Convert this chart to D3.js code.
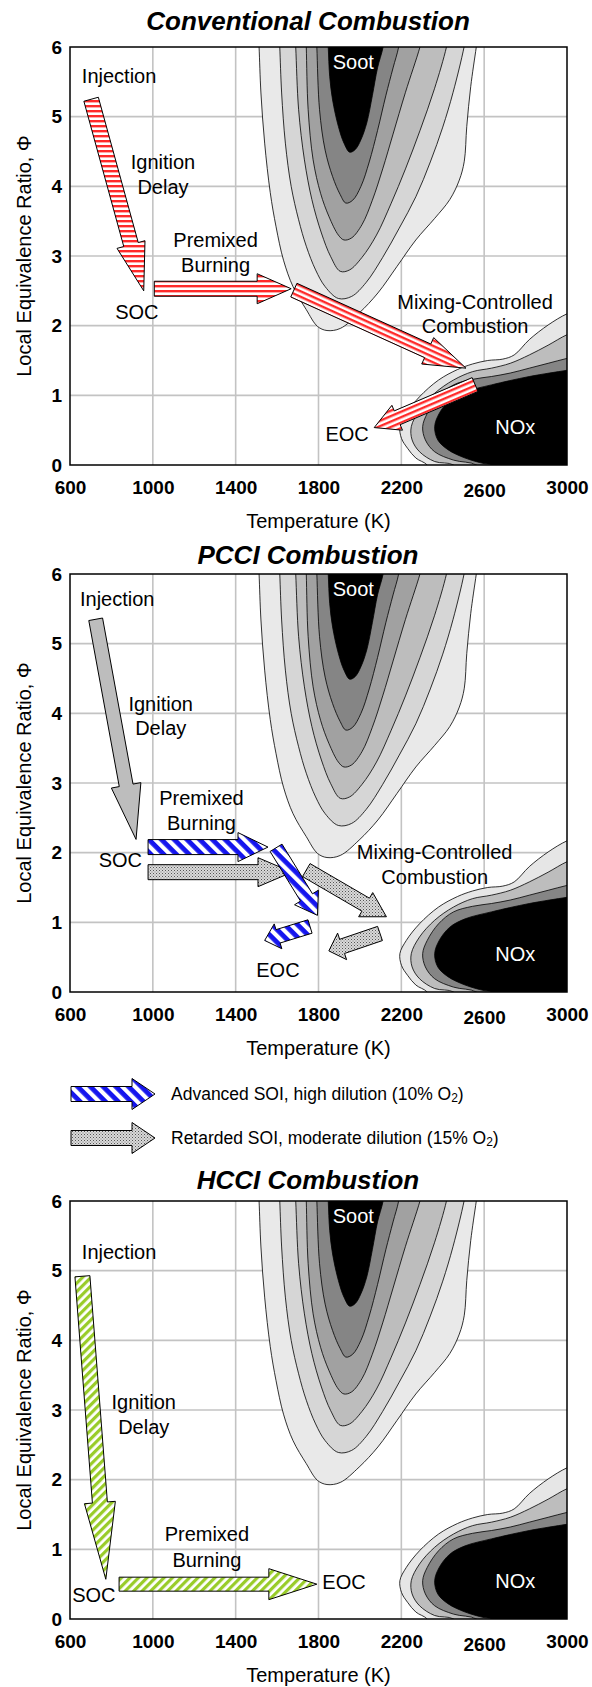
<!DOCTYPE html>
<html>
<head>
<meta charset="utf-8">
<script src="https://cdn.jsdelivr.net/npm/d3@7"></script>
<style>
  html, body { margin: 0; padding: 0; background: #fff; }
  svg { display: block; }
  text { font-family: "Liberation Sans", Arial, Helvetica, sans-serif; fill: #000; }
</style>
</head>
<body>
<svg id="fig" width="592" height="1687"></svg>
<script>
// ---- axis ticks -------------------------------------------------------------
const tempTicks = [600, 1000, 1400, 1800, 2200, 2600, 3000];
const phiTicks = [0, 1, 2, 3, 4, 5, 6];
const panelTitles = ["Conventional Combustion", "PCCI Combustion", "HCCI Combustion"];

// ---- soot contour bands, outermost first: [T (K), phi] ----------------------
const sootLevels = [
  [[1508,6.3],[1513,6.0],[1522,5.34],[1540,4.62],[1567,3.91],[1595,3.42],[1631,2.94],[1677,2.56],[1741,2.23],[1795,1.99],[1841,1.93],[1905,1.96],[1996,2.18],[2087,2.47],[2179,2.85],[2270,3.23],[2361,3.54],[2434,3.81],[2480,4.09],[2504,4.36],[2516,4.86],[2535,5.43],[2562,6.0],[2576,6.3]],
  [[1609,6.3],[1613,6.0],[1622,5.34],[1640,4.62],[1668,4.0],[1704,3.52],[1741,3.14],[1786,2.80],[1832,2.56],[1896,2.39],[1960,2.42],[2030,2.62],[2110,2.98],[2190,3.40],[2270,3.85],[2340,4.35],[2400,4.85],[2450,5.35],[2503,6.0],[2520,6.3]],
  [[1685,6.3],[1690,6.0],[1704,5.10],[1732,4.38],[1768,3.81],[1814,3.33],[1859,2.99],[1905,2.78],[1950,2.80],[2010,2.98],[2080,3.30],[2150,3.75],[2220,4.25],[2290,4.80],[2360,5.40],[2418,6.0],[2436,6.3]],
  [[1738,6.3],[1741,6.0],[1750,5.10],[1774,4.38],[1810,3.90],[1850,3.57],[1896,3.30],[1923,3.23],[1960,3.26],[2010,3.45],[2060,3.80],[2110,4.25],[2160,4.75],[2220,5.35],[2290,6.0],[2315,6.3]],
  [[1788,6.3],[1792,6.0],[1805,5.10],[1832,4.52],[1868,4.14],[1905,3.88],[1932,3.76],[1965,3.80],[2005,4.00],[2045,4.35],[2085,4.80],[2125,5.30],[2160,5.70],[2187,6.0],[2200,6.3]],
  [[1842,6.3],[1847,6.0],[1854,5.58],[1868,5.24],[1896,4.86],[1923,4.62],[1951,4.49],[1978,4.53],[2005,4.67],[2033,4.91],[2060,5.30],[2085,5.70],[2112,6.0],[2125,6.3]]
];
const sootFills = ["#e9e9e9", "#d6d6d6", "#bdbdbd", "#a1a1a1", "#858585", "#000000"];

// ---- NOx contour bands, outermost first --------------------------------------
const noxLevels = [
  [[3080,2.25],[3000,2.17],[2909,2.01],[2818,1.80],[2745,1.58],[2690,1.52],[2617,1.50],[2544,1.45],[2471,1.37],[2380,1.22],[2288,0.98],[2224,0.74],[2193,0.55],[2201,0.38],[2230,0.24],[2270,0.10],[2325,0],[2360,-0.2]],
  [[3080,1.95],[3000,1.87],[2909,1.72],[2818,1.58],[2726,1.46],[2635,1.39],[2544,1.34],[2452,1.22],[2361,1.03],[2288,0.79],[2248,0.55],[2252,0.36],[2288,0.19],[2361,0.05],[2452,0],[2500,-0.2]],
  [[3080,1.58],[3000,1.53],[2909,1.46],[2818,1.39],[2726,1.32],[2635,1.27],[2544,1.23],[2452,1.15],[2380,0.98],[2325,0.74],[2303,0.55],[2316,0.36],[2361,0.19],[2452,0.07],[2562,0],[2620,-0.2]],
  [[3080,1.40],[3000,1.36],[2818,1.27],[2635,1.15],[2508,1.05],[2434,0.93],[2383,0.74],[2361,0.55],[2376,0.36],[2425,0.22],[2508,0.10],[2599,0.02],[2635,0],[2680,-0.2]]
];
const noxFills = ["#e6e6e6", "#bdbdbd", "#858585", "#000000"];

const regionLabels = [
  { text: "Soot", at: [1968, 5.79] },
  { text: "NOx",  at: [2750, 0.55] }
];

// ---- process arrows (start -> end in T, phi) ---------------------------------
const conventionalArrows = [
  { from: [702, 5.25],  to: [956, 2.50] },
  { from: [1007, 2.53], to: [1668, 2.53] },
  { from: [1681, 2.51], to: [2512, 1.39] },
  { from: [2556, 1.155], to: [2069, 0.537] }
];
const pcciInjectionArrows = [
  { from: [724, 5.35], to: [919, 2.19] }
];
const pcciRetardedArrows = [
  { from: [977, 1.72],  to: [1672, 1.72] },
  { from: [1741, 1.75], to: [2128, 1.08] },
  { from: [2097, 0.84], to: [1850, 0.59] }
];
const pcciAdvancedArrows = [
  { from: [977, 2.08],  to: [1556, 2.08] },
  { from: [1595, 2.07], to: [1795, 1.10] },
  { from: [1759, 0.94], to: [1540, 0.74] }
];
const hcciArrows = [
  { from: [660, 4.92], to: [773, 0.57] },
  { from: [837, 0.50], to: [1792, 0.50] }
];

// ---- annotations -------------------------------------------------------------
const conventionalLabels = [
  { text: "Injection", at: [837, 5.58] },
  { text: "Ignition", at: [1049, 4.35] },
  { text: "Delay", at: [1049, 3.99] },
  { text: "Premixed", at: [1303, 3.23] },
  { text: "Burning", at: [1303, 2.87] },
  { text: "SOC", at: [923, 2.19] },
  { text: "Mixing-Controlled", at: [2556, 2.34] },
  { text: "Combustion", at: [2556, 1.99] },
  { text: "EOC", at: [1938, 0.45] }
];
const pcciLabels = [
  { text: "Injection", at: [828, 5.64] },
  { text: "Ignition", at: [1038, 4.14] },
  { text: "Delay", at: [1038, 3.79] },
  { text: "Premixed", at: [1235, 2.79] },
  { text: "Burning", at: [1235, 2.43] },
  { text: "SOC", at: [843, 1.89] },
  { text: "Mixing-Controlled", at: [2361, 2.01] },
  { text: "Combustion", at: [2361, 1.65] },
  { text: "EOC", at: [1604, 0.31] }
];
const hcciLabels = [
  { text: "Injection", at: [837, 5.27] },
  { text: "Ignition", at: [956, 3.11] },
  { text: "Delay", at: [956, 2.75] },
  { text: "Premixed", at: [1261, 1.22] },
  { text: "Burning", at: [1261, 0.85] },
  { text: "SOC", at: [715, 0.34] },
  { text: "EOC", at: [1923, 0.53] }
];

const legendEntries = ["Advanced SOI, high dilution (10% O", "Retarded SOI, moderate dilution (15% O"];

// ---- arrow geometry: [shaft width, head width, head length] in px -------------
const conventionalDims = [[15, 29, 48], [15, 30, 34], [15, 29, 42], [15, 27, 25]];
const pcciInjectionDims = [[14, 30, 55]];
const pcciRetardedDims = [[15, 29, 34], [15, 28, 24], [15, 28, 14]];
const pcciAdvancedDims = [[15, 29, 30], [14, 28, 21], [14, 26, 14]];
const hcciDims = [[15, 31, 77], [14, 31, 48]];

// ---- layout -------------------------------------------------------------------
const L = 70, PW = 497, PH = 418;
const panelTops = [47, 574, 1201];
const titleGaps = [26, 19, 21];

const svg = d3.select("#fig");
const defs = svg.append("defs");

function stripes(id, color, bg, period, thick, angle) {
  const p = defs.append("pattern").attr("id", id)
    .attr("patternUnits", "userSpaceOnUse")
    .attr("width", period).attr("height", period)
    .attr("patternTransform", `rotate(${angle})`);
  p.append("rect").attr("width", period).attr("height", period).attr("fill", bg);
  p.append("rect").attr("width", period).attr("height", thick).attr("fill", color);
  return `url(#${id})`;
}
const blueFill = stripes("blueStripes", "#1515ee", "#ffffff", 9, 4.8, 45);
const greenFill = stripes("greenStripes", "#99cc29", "#ffffff", 6, 3.2, -45);
(function () {
  const p = defs.append("pattern").attr("id", "stipple")
    .attr("patternUnits", "userSpaceOnUse").attr("width", 3).attr("height", 3);
  p.append("rect").attr("width", 3).attr("height", 3).attr("fill", "#dadada");
  p.append("rect").attr("x", 0).attr("y", 0).attr("width", 1).attr("height", 1).attr("fill", "#555");
  p.append("rect").attr("x", 1.5).attr("y", 1.5).attr("width", 1).attr("height", 1).attr("fill", "#7a7a7a");
})();
const stippleFill = "url(#stipple)";

function arrowGeom(x, y, a, dims) {
  const [w, hw, hl] = dims;
  const x0 = x(a.from[0]), y0 = y(a.from[1]), x1 = x(a.to[0]), y1 = y(a.to[1]);
  const len = Math.hypot(x1 - x0, y1 - y0);
  const ux = (x1 - x0) / len, uy = (y1 - y0) / len, nx = -uy, ny = ux;
  const bx = x1 - ux * hl, by = y1 - uy * hl;
  const pts = [
    [x0 + nx * w / 2, y0 + ny * w / 2], [bx + nx * w / 2, by + ny * w / 2],
    [bx + nx * hw / 2, by + ny * hw / 2], [x1, y1],
    [bx - nx * hw / 2, by - ny * hw / 2], [bx - nx * w / 2, by - ny * w / 2],
    [x0 - nx * w / 2, y0 - ny * w / 2]
  ];
  return { pts, angle: Math.atan2(uy, ux) * 180 / Math.PI };
}

function drawArrows(g, x, y, arrows, dims, fillFor) {
  arrows.forEach((a, i) => {
    const geo = arrowGeom(x, y, a, dims[i]);
    g.append("path")
      .attr("d", "M" + geo.pts.map(p => p.join(",")).join("L") + "Z")
      .attr("fill", fillFor(geo, i))
      .attr("stroke", "#000").attr("stroke-width", 1)
      .attr("stroke-linejoin", "miter");
  });
}

let redCount = 0;
function redFill(geo) {
  let a = geo.angle;
  if (a > 90) a -= 180;
  if (a <= -90) a += 180;
  const rot = Math.abs(a) < 45 ? a : 0;
  return stripes("red" + (redCount++), "#ff2a2a", "#ffffff", 5, 2.4, rot);
}

function drawLabels(g, x, y, labels, color) {
  g.selectAll(null).data(labels).join("text")
    .attr("x", d => x(d.at[0])).attr("y", d => y(d.at[1]))
    .attr("text-anchor", "middle").attr("dominant-baseline", "central")
    .style("font-size", "20px").style("fill", color)
    .text(d => d.text);
}

function drawPanel(idx) {
  const top = panelTops[idx];
  const x = d3.scaleLinear().domain([600, 3000]).range([L, L + PW]);
  const y = d3.scaleLinear().domain([0, 6]).range([top + PH, top]);
  const g = svg.append("g");

  // title
  g.append("text").attr("x", 308).attr("y", top - titleGaps[idx])
    .attr("text-anchor", "middle").attr("dominant-baseline", "central")
    .style("font-size", "26px").style("font-weight", "bold").style("font-style", "italic")
    .text(panelTitles[idx]);

  // grid
  const grid = g.append("g");
  grid.selectAll(null).data(tempTicks.slice(1, -1)).join("line")
    .attr("x1", d => x(d)).attr("x2", d => x(d)).attr("y1", top).attr("y2", top + PH)
    .attr("stroke", "#c3c3c3").attr("stroke-width", 1.6);
  grid.selectAll(null).data(phiTicks.slice(1, -1)).join("line")
    .attr("y1", d => y(d)).attr("y2", d => y(d)).attr("x1", L).attr("x2", L + PW)
    .attr("stroke", "#c3c3c3").attr("stroke-width", 1.6);

  // contour bands
  const clipId = "plotClip" + idx;
  defs.append("clipPath").attr("id", clipId).append("rect")
    .attr("x", L).attr("y", top).attr("width", PW).attr("height", PH);
  const cg = g.append("g").attr("clip-path", `url(#${clipId})`);
  const line = d3.line().x(d => x(d[0])).y(d => y(d[1])).curve(d3.curveCatmullRom.alpha(0.5));
  sootLevels.forEach((lev, i) => {
    cg.append("path").attr("d", line(lev) + "Z")
      .attr("fill", sootFills[i]).attr("stroke", "#000").attr("stroke-width", 0.8);
  });
  noxLevels.forEach((lev, i) => {
    cg.append("path").attr("d", line(lev) + `L${x(3120)},${y(-0.3)}Z`)
      .attr("fill", noxFills[i]).attr("stroke", "#000").attr("stroke-width", 0.8);
  });

  // frame
  g.append("rect").attr("x", L).attr("y", top).attr("width", PW).attr("height", PH)
    .attr("fill", "none").attr("stroke", "#000").attr("stroke-width", 1.5);

  // tick labels
  const xa = g.append("g").attr("transform", `translate(0,${top + PH})`)
    .call(d3.axisBottom(x).tickValues(tempTicks).tickSize(0).tickPadding(16).tickFormat(d3.format("d")));
  xa.select(".domain").remove();
  xa.selectAll("text").style("font-size", "19px").style("font-weight", "bold")
    .style("font-family", '"Liberation Sans", Arial, sans-serif').attr("fill", "#000")
    .attr("dy", d => d === 2600 ? "0.86em" : "0.71em");
  const ya = g.append("g").attr("transform", `translate(${L},0)`)
    .call(d3.axisLeft(y).tickValues(phiTicks).tickSize(0).tickPadding(8).tickFormat(d3.format("d")));
  ya.select(".domain").remove();
  ya.selectAll("text").style("font-size", "19px").style("font-weight", "bold")
    .style("font-family", '"Liberation Sans", Arial, sans-serif').attr("fill", "#000");

  // axis titles
  g.append("text").attr("x", L + PW / 2).attr("y", top + PH + 56)
    .attr("text-anchor", "middle").attr("dominant-baseline", "central")
    .style("font-size", "20px").text("Temperature (K)");
  g.append("text").attr("transform", `translate(24,${top + PH / 2}) rotate(-90)`)
    .attr("text-anchor", "middle").attr("dominant-baseline", "central")
    .style("font-size", "20px").text("Local Equivalence Ratio, \u03A6");

  drawLabels(g, x, y, regionLabels, "#fff");
  return { g, x, y };
}

// Conventional combustion
{
  const { g, x, y } = drawPanel(0);
  drawArrows(g, x, y, conventionalArrows, conventionalDims, geo => redFill(geo));
  drawLabels(g, x, y, conventionalLabels, "#000");
}

// PCCI combustion
{
  const { g, x, y } = drawPanel(1);
  drawArrows(g, x, y, pcciInjectionArrows, pcciInjectionDims, () => "#bdbdbd");
  drawArrows(g, x, y, pcciRetardedArrows.slice(0, 1), pcciRetardedDims, () => stippleFill);
  drawArrows(g, x, y, pcciAdvancedArrows.slice(0, 1), pcciAdvancedDims, () => blueFill);
  drawArrows(g, x, y, pcciRetardedArrows.slice(1), pcciRetardedDims.slice(1), () => stippleFill);
  drawArrows(g, x, y, pcciAdvancedArrows.slice(1), pcciAdvancedDims.slice(1), () => blueFill);
  drawLabels(g, x, y, pcciLabels, "#000");

  // legend
  const lg = svg.append("g");
  const lx = d3.scaleLinear().domain([0, 1]).range([71, 155]);
  const fills = [blueFill, stippleFill];
  legendEntries.forEach((txt, i) => {
    const cy = [1094, 1138][i];
    const ly = () => cy;
    const geo = arrowGeom(lx, ly, { from: [0, 0], to: [1, 0] }, [15, 31, 23]);
    lg.append("path").attr("d", "M" + geo.pts.map(p => p.join(",")).join("L") + "Z")
      .attr("fill", fills[i]).attr("stroke", "#000").attr("stroke-width", 1);
    const t = lg.append("text").attr("x", 171).attr("y", cy)
      .attr("dominant-baseline", "central").style("font-size", "17.5px");
    t.append("tspan").text(txt);
    t.append("tspan").attr("dy", 4).style("font-size", "12px").text("2");
    t.append("tspan").attr("dy", -4).text(")");
  });
}

// HCCI combustion
{
  const { g, x, y } = drawPanel(2);
  drawArrows(g, x, y, hcciArrows, hcciDims, () => greenFill);
  drawLabels(g, x, y, hcciLabels, "#000");
}
</script>
</body>
</html>
